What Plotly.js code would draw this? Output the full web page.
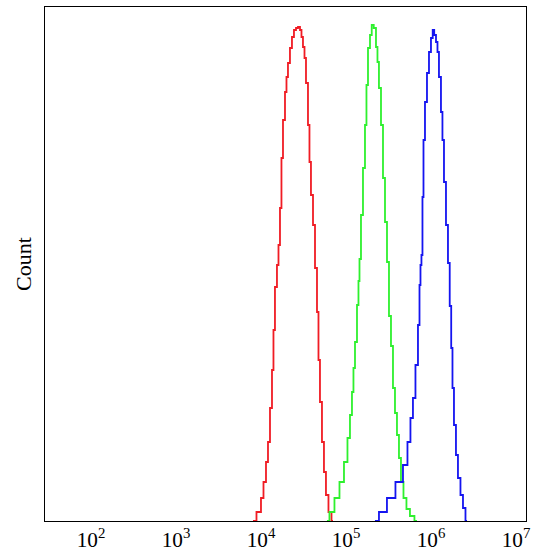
<!DOCTYPE html>
<html>
<head>
<meta charset="utf-8">
<script src="https://cdn.plot.ly/plotly-3.0.1.min.js"></script>
<style>html,body{margin:0;padding:0;background:#fff;}#chart{width:538px;height:553px;}</style>
</head>
<body>
<div id="chart"></div>
<script>
// Fluorescence intensity as log10 exponent, counts
const redLog = [3.906,3.988,4.012,4.047,4.071,4.094,4.118,4.141,4.153,4.176,4.200,4.212,4.235,4.247,4.271,4.294,4.306,4.329,4.353,4.376,4.400,4.424,4.447,4.471,4.482,4.506,4.518,4.541,4.565,4.576,4.600,4.624,4.647,4.671,4.682,4.706,4.729,4.753,4.776,4.812,4.847];
const redCount = [0,9,23,39,59,79,113,151,191,234,256,276,313,363,401,429,444,458,473,484,491,493,494,491,484,474,463,438,396,359,326,296,253,209,161,119,79,49,26,9,0];

const greenLog = [4.776,4.835,4.894,4.953,5.000,5.035,5.059,5.082,5.094,5.118,5.141,5.153,5.165,5.188,5.212,5.235,5.247,5.271,5.294,5.312,5.341,5.365,5.376,5.400,5.424,5.447,5.471,5.494,5.518,5.541,5.565,5.588,5.612,5.635,5.659,5.694,5.729,5.776,5.835];
const greenCount = [0,9,23,39,59,83,106,129,153,179,216,240,262,306,353,396,436,473,486,496,493,474,459,433,396,343,299,259,205,175,133,108,86,63,39,23,12,5,0];

const blueLog = [5.341,5.435,5.529,5.635,5.706,5.741,5.776,5.800,5.835,5.859,5.871,5.882,5.894,5.906,5.918,5.941,5.965,5.988,6.012,6.029,6.047,6.071,6.082,6.106,6.129,6.141,6.165,6.188,6.212,6.229,6.247,6.259,6.282,6.306,6.329,6.365,6.388,6.424];
const blueCount = [0,9,23,39,56,79,103,123,156,196,236,256,266,324,381,419,448,469,483,491,486,479,469,444,409,381,339,296,258,215,173,133,96,66,43,26,13,0];

const seriesColors = ['#f01c24', '#2ef02e', '#1414f0'];

function mk(logs, counts, color) {
  return {
    x: logs.map(v => Math.pow(10, v)),
    y: counts,
    type: 'scatter',
    mode: 'lines',
    line: {color: color, width: 1.8, shape: 'hvh'},
    hoverinfo: 'skip',
    showlegend: false
  };
}

const data = [
  mk(redLog, redCount, seriesColors[0]),
  mk(greenLog, greenCount, seriesColors[1]),
  mk(blueLog, blueCount, seriesColors[2])
];

const serif = 'Liberation Serif, DejaVu Serif, serif';

const layout = {
  width: 538,
  height: 553,
  margin: {l: 45, r: 12, t: 7, b: 32, pad: 0},
  paper_bgcolor: '#ffffff',
  plot_bgcolor: '#ffffff',
  showlegend: false,
  font: {family: serif, color: '#000'},
  xaxis: {
    type: 'log',
    range: [1.459, 7.118],
    dtick: 1,
    exponentformat: 'power',
    showexponent: 'all',
    showgrid: false,
    zeroline: false,
    showline: true,
    linecolor: '#000',
    linewidth: 1,
    mirror: true,
    ticks: '',
    tickfont: {size: 17, family: serif, color: '#000'}
  },
  yaxis: {
    range: [0, 514],
    showgrid: false,
    zeroline: false,
    showline: true,
    linecolor: '#000',
    linewidth: 1,
    mirror: true,
    ticks: '',
    showticklabels: false,
    title: {text: 'Count', font: {size: 22, family: serif, color: '#000'}, standoff: 6}
  }
};

Plotly.newPlot('chart', data, layout, {staticPlot: true, displayModeBar: false});
</script>
</body>
</html>
